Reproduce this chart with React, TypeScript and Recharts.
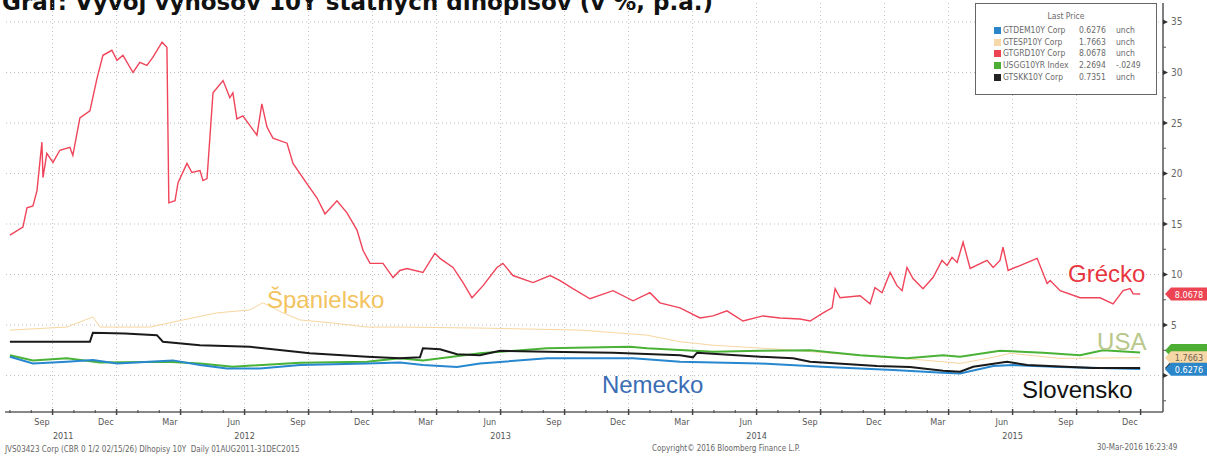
import React from "react";
import { LineChart, Line, XAxis, YAxis, ReferenceLine, ReferenceDot } from "recharts";

// m = months since 1 Aug 2011, v = 10Y yield in %
const greece: [number, number][] = [
  [0, 13.9], [0.61, 14.7], [0.8, 16.6], [1.08, 16.8], [1.27, 18.3], [1.5, 23.1], [1.55, 19.6],
  [1.73, 22.0], [2.02, 21.1], [2.34, 22.3], [2.81, 22.6], [2.95, 21.8], [3.28, 25.5], [3.75, 26.2],
  [4.08, 29.4], [4.36, 31.7], [4.78, 32.2], [5.02, 31.2], [5.3, 31.7], [5.77, 30.0], [6.09, 31.0],
  [6.42, 30.7], [6.7, 31.5], [7.13, 33.0], [7.36, 32.5], [7.45, 17.1], [7.74, 17.3], [7.88, 19.1],
  [8.3, 21.0], [8.53, 20.1], [8.91, 20.3], [9.05, 19.3], [9.24, 19.5], [9.52, 28.0], [9.99, 29.2],
  [10.31, 27.5], [10.45, 28.0], [10.64, 25.4], [10.92, 25.7], [11.58, 23.8], [11.81, 26.9],
  [12.05, 24.6], [12.33, 23.5], [12.99, 23.0], [13.27, 21.0], [13.92, 19.0], [14.39, 17.6],
  [14.77, 16.0], [15.33, 17.3], [15.8, 16.1], [16.27, 14.4], [16.55, 12.4], [16.88, 11.1],
  [17.49, 11.1], [17.96, 9.7], [18.28, 10.4], [18.61, 10.6], [19.36, 10.2], [19.92, 12.1],
  [20.16, 11.6], [20.77, 10.7], [21.24, 9.2], [21.66, 7.7], [22.18, 8.9], [22.83, 10.7],
  [23.11, 11.1], [23.58, 9.9], [24.52, 9.2], [25.32, 9.9], [25.79, 9.4], [26.39, 8.6],
  [27.19, 7.6], [28.27, 8.4], [29.21, 7.4], [30.0, 8.2], [30.47, 7.2], [31.41, 6.7], [32.35, 5.7],
  [32.96, 5.9], [33.61, 6.4], [34.36, 5.4], [35.3, 5.9], [36.1, 5.7], [37.04, 5.6], [37.51, 5.4],
  [38.12, 6.2], [38.54, 6.7], [38.68, 8.6], [38.91, 7.7], [39.85, 7.9], [40.32, 7.1], [40.55, 8.7],
  [40.88, 8.2], [41.26, 10.2], [41.58, 8.9], [41.82, 8.4], [42.05, 10.7], [42.33, 9.6],
  [42.8, 8.6], [43.27, 9.7], [43.69, 11.4], [43.93, 10.9], [44.16, 11.7], [44.4, 11.2],
  [44.68, 13.2], [45.01, 10.6], [45.8, 11.4], [46.09, 10.7], [46.41, 11.4], [46.55, 12.7],
  [46.79, 10.4], [48.15, 11.6], [48.62, 9.1], [48.76, 9.4], [49.23, 8.4], [50.16, 7.7],
  [51.1, 7.7], [51.71, 7.1], [52.18, 8.4], [52.51, 8.6], [52.65, 8.1], [52.98, 8.07],
];

const spain: [number, number][] = [
  [0, 4.5], [2.67, 4.8], [3.89, 5.8], [4.22, 4.8], [6.56, 4.8], [8.11, 5.5], [9.7, 6.2],
  [11.25, 6.5], [11.86, 7.2], [12.8, 6.2], [13.6, 5.5], [15.14, 5.2], [16.74, 4.8], [18.28, 4.8],
  [22.03, 4.7], [26.72, 4.5], [29.86, 4.0], [31.41, 3.35], [32.96, 3.0], [36.1, 2.6], [39.85, 2.0],
  [42.99, 1.5], [44.54, 1.2], [46.09, 1.8], [46.88, 2.2], [49.23, 1.7], [52.98, 1.77],
];

const usa: [number, number][] = [
  [0, 2.0], [1.08, 1.5], [2.67, 1.7], [4.22, 1.3], [7.36, 1.37], [8.91, 1.2], [10.45, 0.87],
  [13.6, 1.27], [16.74, 1.37], [18.28, 1.7], [19.36, 1.5], [22.03, 2.2], [25.18, 2.7],
  [29.07, 2.85], [29.86, 2.7], [32.96, 2.36], [35.16, 2.45], [37.51, 2.5], [39.85, 2.0],
  [42.05, 1.7], [43.74, 2.0], [44.54, 1.86], [46.41, 2.45], [48.43, 2.26], [50.16, 2.0],
  [51.24, 2.5], [52.98, 2.27],
];

const germany: [number, number][] = [
  [0, 1.86], [1.08, 1.2], [2.67, 1.37], [3.89, 1.53], [5.02, 1.2], [7.64, 1.5], [8.91, 1.04],
  [10.17, 0.7], [11.72, 0.7], [13.6, 1.04], [16.74, 1.2], [18.28, 1.3], [19.36, 1.04],
  [20.96, 0.84], [22.03, 1.2], [25.18, 1.7], [29.21, 1.7], [31.41, 1.37], [35.16, 1.2],
  [38.3, 0.84], [41.4, 0.54], [43.74, 0.28], [44.54, 0.2], [46.09, 0.94], [47.02, 1.04],
  [49.23, 0.84], [52.98, 0.65],
];

const slovakia: [number, number][] = [
  [0, 3.35], [3.75, 3.35], [3.89, 4.24], [5.39, 4.15], [6.89, 4.0], [7.17, 3.35], [8.91, 3.0],
  [11.25, 2.85], [14.06, 2.2], [16.74, 1.86], [18.28, 1.7], [19.22, 1.8], [19.36, 2.7],
  [20.16, 2.6], [20.96, 2.1], [22.03, 2.0], [22.97, 2.45], [25.18, 2.36], [28.27, 2.26],
  [31.41, 2.0], [32.02, 1.8], [32.21, 2.26], [35.16, 1.86], [36.71, 1.7], [37.51, 1.37],
  [40.65, 0.94], [42.19, 0.84], [43.74, 0.48], [44.54, 0.38], [45.15, 0.87], [46.74, 1.37],
  [47.68, 1.04], [50.77, 0.74], [52.98, 0.74],
];

const quarterLabels = ["Sep", "Dec", "Mar", "Jun"];
const yearLabels: [number, string][] = [[2.5, "2011"], [11, "2012"], [23, "2013"], [35, "2014"], [47, "2015"]];
const yTicks = [-2.5, 0, 2.5, 5, 7.5, 10, 12.5, 15, 17.5, 20, 22.5, 25, 27.5, 30, 32.5, 35];
const yGrid = [0, 5, 10, 15, 20, 25, 30, 35];

const legendRows = [
  { color: "#2a86c8", ticker: "GTDEM10Y Corp", last: "0.6276", chg: "unch" },
  { color: "#f6d9ab", ticker: "GTESP10Y Corp", last: "1.7663", chg: "unch" },
  { color: "#ec4452", ticker: "GTGRD10Y Corp", last: "8.0678", chg: "unch" },
  { color: "#4cae32", ticker: "USGG10YR Index", last: "2.2694", chg: "-.0249" },
  { color: "#222222", ticker: "GTSKK10Y Corp", last: "0.7351", chg: "unch" },
];

// last-price tags on the right axis; hidden ones (covered in the original) carry no text
const lastTags = [
  { value: 0.7351, label: "", bg: "#222", fg: "#fff", shift: 0 },
  { value: 2.2694, label: "", bg: "#4cae32", fg: "#fff", shift: -2 },
  { value: 1.7663, label: "1.7663", bg: "#f6d7a6", fg: "#6f6350", shift: 0 },
  { value: 0.6276, label: "0.6276", bg: "#2a86c8", fg: "#fff", shift: 0 },
  { value: 8.0678, label: "8.0678", bg: "#ec4452", fg: "#fff", shift: 0 },
];

const X_DOMAIN: [number, number] = [-0.23, 54.05];
const Y_DOMAIN: [number, number] = [-3.61, 36.88];

const small = '"DejaVu Sans Condensed", "Liberation Sans Narrow", "DejaVu Sans", sans-serif';
const big = '"Liberation Sans", Arial, sans-serif';

const toPts = (arr: [number, number][]) => arr.map(([m, v]) => ({ m, v }));

const xTicks = (() => {
  const s = new Set<number>();
  for (let i = 0; i <= 53; i++) s.add(i);
  for (let i = 0; i < 18; i++) s.add(1.5 + i * 3);
  yearLabels.forEach(([m]) => s.add(m));
  return Array.from(s).sort((a, b) => a - b);
})();

const quarterStarts = Array.from({ length: 17 }, (_, i) => 2 + i * 3);

function XTick(props: any) {
  const { x, y, payload } = props;
  const v: number = payload.value;
  const year = yearLabels.find(([m]) => m === v);
  const k = (v - 1.5) / 3;
  const isLabel = Math.abs(k - Math.round(k)) < 0.001;
  const isQuarter = Number.isInteger(v) && (v - 2) % 3 === 0;
  return (
    <g>
      {Number.isInteger(v) && (
        <line x1={x} x2={x} y1={y - (isQuarter ? 3 : 2)} y2={y + (isQuarter ? 3 : 1)} stroke="#444" strokeWidth={isQuarter ? 1.5 : 1} />
      )}
      {isLabel && (
        <text x={x} y={y + 13} textAnchor="middle" fontSize={9} fill="#555" fontFamily={small}>
          {quarterLabels[Math.round(k) % 4]}
        </text>
      )}
      {year && (
        <text x={x} y={y + 27} textAnchor="middle" fontSize={9} fill="#555" fontFamily={small}>
          {year[1]}
        </text>
      )}
    </g>
  );
}

function YTick(props: any) {
  const { x, y, payload } = props;
  const v: number = payload.value;
  const major = v % 5 === 0;
  return (
    <g>
      {major ? (
        <polygon points={`${x},${y - 2.5} ${x + 5},${y} ${x},${y + 2.5}`} fill="#333" />
      ) : (
        <line x1={x} x2={x + 3} y1={y} y2={y} stroke="#555" />
      )}
      {major && v > 0 && (
        <text x={x + 8} y={y + 3.5} fontSize={10} fill="#666" fontFamily={small}>
          {v}
        </text>
      )}
    </g>
  );
}

function Tag({ cx, cy, label, bg, fg, shift }: any) {
  const y = cy + shift;
  const x0 = cx + 2;
  const h = 13;
  return (
    <g>
      <polygon
        points={`${x0},${y} ${x0 + 6},${y - h / 2} ${x0 + 42},${y - h / 2} ${x0 + 42},${y + h / 2} ${x0 + 6},${y + h / 2}`}
        fill={bg}
      />
      {label && (
        <text x={x0 + 24} y={y + 3.5} textAnchor="middle" fontSize={9} fill={fg} fontFamily={small}>
          {label}
        </text>
      )}
    </g>
  );
}

function Note({ cx, cy, text, color }: any) {
  return (
    <text x={cx} y={cy} fontSize={24} fill={color} fontFamily={big}>
      {text}
    </text>
  );
}

export default function App() {
  return (
    <div style={{ position: "absolute", left: 0, top: 0, width: 1207, height: 457, overflow: "hidden", background: "#fff" }}>
      <div
        style={{
          position: "absolute", left: 2, top: -11, fontSize: 23, fontWeight: 700, color: "#111",
          fontFamily: '"DejaVu Sans", sans-serif', whiteSpace: "nowrap", lineHeight: "27px",
        }}
      >
        Graf: Vývoj výnosov 10Y štátnych dlhopisov (v %, p.a.)
      </div>
      <div style={{ position: "absolute", left: 0, top: 0 }}>
        <LineChart width={1207} height={457} margin={{ top: 3, right: 0, bottom: 0, left: 5 }}>
          {quarterStarts.map((q) => (
            <ReferenceLine key={`q${q}`} x={q} stroke="#bdbdbd" strokeDasharray="1 3" />
          ))}
          {yGrid.map((g) => (
            <ReferenceLine key={`g${g}`} y={g} stroke="#bdbdbd" strokeDasharray="1 3" />
          ))}
          <XAxis
            type="number"
            dataKey="m"
            domain={X_DOMAIN}
            allowDataOverflow
            ticks={xTicks}
            interval={0}
            tick={<XTick />}
            tickLine={false}
            tickSize={0}
            tickMargin={0}
            height={45}
            stroke="#888"
            strokeWidth={2}
          />
          <YAxis
            type="number"
            orientation="right"
            domain={Y_DOMAIN}
            allowDataOverflow
            ticks={yTicks}
            interval={0}
            tick={<YTick />}
            tickLine={false}
            tickSize={0}
            tickMargin={0}
            width={44}
            stroke="#555"
            strokeWidth={1.5}
          />
          <Line data={toPts(spain)} dataKey="v" stroke="#f7d6a0" strokeWidth={1} dot={false} isAnimationActive={false} />
          <Line data={toPts(usa)} dataKey="v" stroke="#49b237" strokeWidth={2} dot={false} isAnimationActive={false} />
          <Line data={toPts(germany)} dataKey="v" stroke="#2787cf" strokeWidth={2} dot={false} isAnimationActive={false} />
          <Line data={toPts(slovakia)} dataKey="v" stroke="#1a1a1a" strokeWidth={2} dot={false} isAnimationActive={false} />
          <Line data={toPts(greece)} dataKey="v" stroke="#f0445a" strokeWidth={1.4} dot={false} isAnimationActive={false} />
          <ReferenceDot x={49.6} y={9.26} r={0} ifOverflow="visible" shape={(p: any) => <Note {...p} text="Grécko" color="#e8363f" />} />
          <ReferenceDot x={12.05} y={6.68} r={0} ifOverflow="visible" shape={(p: any) => <Note {...p} text="Španielsko" color="#f2c35e" />} />
          <ReferenceDot x={50.96} y={2.52} r={0} ifOverflow="visible" shape={(p: any) => <Note {...p} text="USA" color="#b8c78a" />} />
          <ReferenceDot x={27.75} y={-1.73} r={0} ifOverflow="visible" shape={(p: any) => <Note {...p} text="Nemecko" color="#3b6db5" />} />
          <ReferenceDot x={47.44} y={-2.23} r={0} ifOverflow="visible" shape={(p: any) => <Note {...p} text="Slovensko" color="#111" />} />
          {lastTags.map((t) => (
            <ReferenceDot
              key={`tag${t.value}`}
              x={X_DOMAIN[1]}
              y={t.value}
              r={0}
              ifOverflow="visible"
              shape={(p: any) => <Tag {...p} {...t} />}
            />
          ))}
        </LineChart>
      </div>
      <div
        style={{
          position: "absolute", left: 975, top: 3, width: 182, height: 92, border: "1px solid #666",
          background: "#fff", fontFamily: small, fontSize: 8.5, color: "#6a6a6a", boxSizing: "border-box",
        }}
      >
        <div style={{ position: "absolute", left: 0, width: 180, top: 7, textAlign: "center" }}>Last Price</div>
        {legendRows.map((r, i) => (
          <div key={r.ticker} style={{ position: "absolute", top: 21 + i * 11.7, left: 18, height: 11, width: 160, whiteSpace: "nowrap" }}>
            <span style={{ position: "absolute", left: 0, top: 2, width: 7, height: 7, background: r.color }} />
            <span style={{ position: "absolute", left: 9, top: 0 }}>{r.ticker}</span>
            <span style={{ position: "absolute", left: 85, top: 0 }}>{r.last}</span>
            <span style={{ position: "absolute", left: 122, top: 0 }}>{r.chg}</span>
          </div>
        ))}
      </div>
      <div style={{ position: "absolute", left: 5, top: 445, fontFamily: small, fontSize: 8, color: "#666", whiteSpace: "nowrap" }}>
        JVS03423 Corp (CBR 0 1/2 02/15/26) Dlhopisy 10Y&nbsp;&nbsp;Daily 01AUG2011-31DEC2015
      </div>
      <div style={{ position: "absolute", left: 652, top: 444, fontFamily: small, fontSize: 8, color: "#666", whiteSpace: "nowrap" }}>
        Copyright© 2016 Bloomberg Finance L.P.
      </div>
      <div style={{ position: "absolute", left: 1097, top: 443, fontFamily: small, fontSize: 8, color: "#666", whiteSpace: "nowrap" }}>
        30-Mar-2016 16:23:49
      </div>
    </div>
  );
}
